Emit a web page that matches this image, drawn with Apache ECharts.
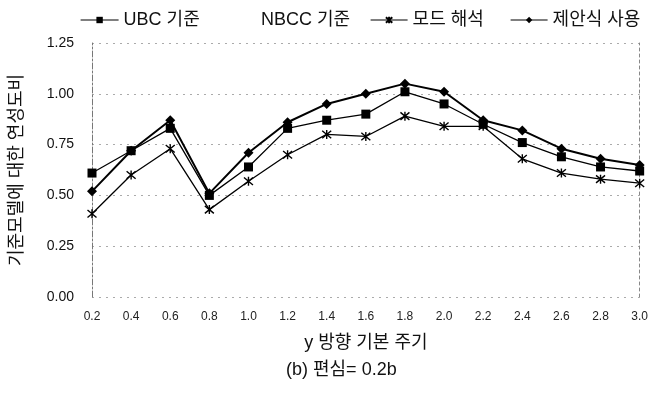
<!DOCTYPE html>
<html>
<head>
<meta charset="utf-8">
<script src="https://cdn.jsdelivr.net/npm/echarts@6/dist/echarts.min.js"></script>
<style>
html,body{margin:0;padding:0;background:#fff;}
#c{width:651px;height:394px;}
</style>
</head>
<body>
<div id="c"></div>
<script>
const periods = ['0.2','0.4','0.6','0.8','1.0','1.2','1.4','1.6','1.8','2.0','2.2','2.4','2.6','2.8','3.0'];
const ubc = [0.61,0.72,0.83,0.50,0.64,0.83,0.87,0.90,1.01,0.95,0.85,0.76,0.69,0.64,0.62];
const nbcc = [];
const modal = [0.41,0.60,0.73,0.43,0.57,0.70,0.80,0.79,0.89,0.84,0.84,0.68,0.61,0.58,0.56];
const proposed = [0.52,0.72,0.87,0.51,0.71,0.86,0.95,1.00,1.05,1.01,0.87,0.82,0.73,0.68,0.65];
const yTicks = [0, 0.25, 0.5, 0.75, 1.0, 1.25];

const KFONT = '"Liberation Sans", Arial, "Noto Sans CJK KR", sans-serif';
const starPath = 'path://M0,0L10,10M10,0L0,10M5,-1L5,11';

const chart = echarts.init(document.getElementById('c'), null, {renderer: 'canvas'});
const legendBase = {
  top: 6, itemHeight: 8, itemGap: 0,
  lineStyle: {width: 1.2},
  textStyle: {fontFamily: KFONT, fontSize: 18, color: '#111'},
  selectedMode: false
};
chart.setOption({
  animation: false,
  backgroundColor: '#fff',
  legend: [
    Object.assign({}, legendBase, {left: 75, itemWidth: 38, data: ['UBC 기준']}),
    Object.assign({}, legendBase, {left: 251, itemWidth: 0, data: [{name: 'NBCC 기준', icon: 'none'}]}),
    Object.assign({}, legendBase, {left: 365, itemWidth: 37, data: ['모드 해석']}),
    Object.assign({}, legendBase, {left: 505, itemWidth: 37, data: ['제안식 사용']})
  ],
  grid: {left: 90, right: 10, top: 43, bottom: 97, containLabel: false},
  xAxis: {
    type: 'category', data: periods, boundaryGap: false,
    axisLine: {show: false}, axisTick: {show: false},
    axisLabel: {fontFamily: KFONT, fontSize: 12, color: '#222', margin: 14},
    name: 'y 방향 기본 주기', nameLocation: 'middle', nameGap: 37,
    nameTextStyle: {fontFamily: KFONT, fontSize: 18, color: '#111'},
    splitLine: {show: false}
  },
  yAxis: [{
    type: 'value', min: 0, max: 1.25, interval: 0.25,
    axisLine: {show: true, lineStyle: {color: '#777', type: [6,2,2,2], width: 1}},
    axisTick: {show: false},
    axisLabel: {fontFamily: KFONT, fontSize: 14, color: '#111', margin: 18,
      formatter: v => v.toFixed(2)},
    splitLine: {show: true, lineStyle: {color: '#aaa', type: [2,5], width: 1}},
    name: '기준모델에 대한 연성도비', nameLocation: 'middle', nameGap: 66, nameRotate: 90,
    nameTextStyle: {fontFamily: KFONT, fontSize: 18, color: '#111'}
  }, {
    type: 'value', min: 0, max: 1.25, interval: 0.25, position: 'right',
    axisLine: {show: true, lineStyle: {color: '#888', type: [3,3], width: 1}},
    axisTick: {show: false}, axisLabel: {show: false}, splitLine: {show: false}
  }],
  graphic: [{
    type: 'text', left: 286, top: 361,
    style: {text: '(b) 편심= 0.2b', font: '18px ' + KFONT, fill: '#111'}
  }],
  series: [
    {name: 'UBC 기준', type: 'line', data: ubc, symbol: 'rect', symbolSize: 9,
      lineStyle: {color: '#000', width: 1.3}, itemStyle: {color: '#000'}},
    {name: 'NBCC 기준', type: 'line', data: nbcc, symbol: 'none',
      lineStyle: {color: '#000', width: 0}, itemStyle: {color: '#000'}},
    {name: '모드 해석', type: 'line', data: modal, symbol: starPath, symbolSize: 9,
      lineStyle: {color: '#000', width: 1.3},
      itemStyle: {color: '#000', borderColor: '#000', borderWidth: 1.4}},
    {name: '제안식 사용', type: 'line', data: proposed, symbol: 'diamond', symbolSize: 10,
      lineStyle: {color: '#000', width: 2}, itemStyle: {color: '#000'}}
  ]
});
</script>
</body>
</html>
